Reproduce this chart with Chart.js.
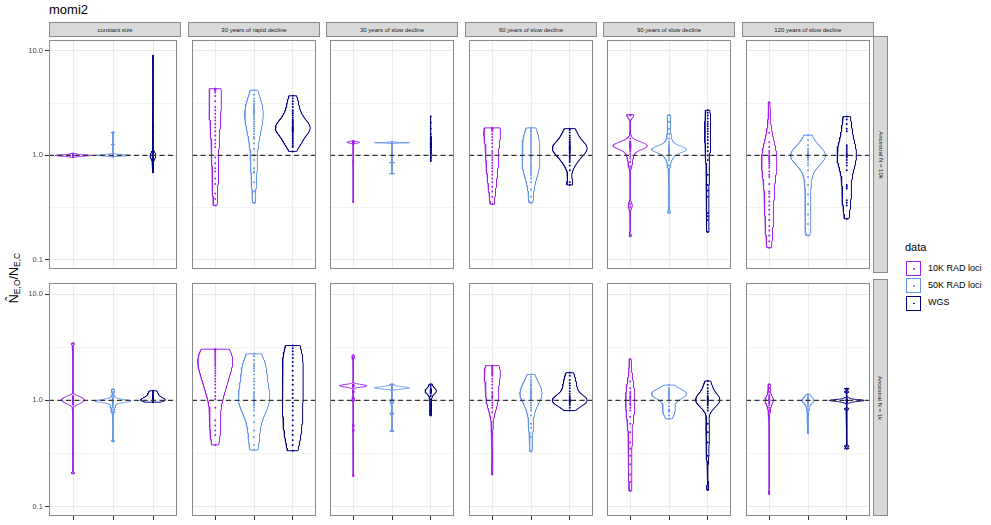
<!DOCTYPE html>
<html><head><meta charset="utf-8">
<script src="https://cdn.jsdelivr.net/npm/chart.js@4.4.1/dist/chart.umd.min.js"></script>
<style>
body{margin:0;background:#fff;width:991px;height:525px;position:relative;overflow:hidden;font-family:"Liberation Sans",Arial,Helvetica,sans-serif}
canvas{position:absolute}
.strip{position:absolute;background:#d9d9d9;border:1px solid #8a8a8a;box-sizing:border-box;font-size:6px;color:#1a1a1a;display:flex;align-items:center;justify-content:center;white-space:nowrap}
.vlab{transform:rotate(90deg);white-space:nowrap}
#title{position:absolute;left:49px;top:2px;font-size:13px;color:#000}
#ytitle{position:absolute;left:14px;top:278px;transform:translate(-50%,-50%) rotate(-90deg);font-size:12.5px;white-space:nowrap;color:#000}
#ytitle sub{font-size:8.5px;vertical-align:-2px}
.lg{position:absolute;font-size:9px;color:#000;white-space:nowrap}
.key{position:absolute;width:15px;height:15px;box-sizing:border-box;background:#fff}
.key i{position:absolute;left:6px;top:6px;width:1.6px;height:1.6px;border-radius:50%}
</style></head><body>
<div id="title">momi2</div>
<div id="ytitle">N&#770;<sub>E,O</sub>/N<sub>E,C</sub></div>
<script>
// ---------------- data ----------------
const scenarios = ["constant size","30 years of rapid decline","30 years of slow decline","60 years of slow decline","90 years of slow decline","120 years of slow decline"];
const ancestral = ["Ancestral N = 10k","Ancestral N = 1k"];
const dataSets = ["10K RAD loci","50K RAD loci","WGS"];
const yTickLabels = [0.1, 1, 10];
const refLine = 1;

// Ancestral N = 10k
const rad10k_n10k = [
 [0.96,0.97,0.97,0.98,0.98,0.98,0.98,0.99,0.99,0.99,0.99,0.99,0.99,1.00,1.00,1.00,1.00,1.00,1.00,1.00,1.00,1.01,1.01,1.01,1.01,1.02,1.02,1.03,1.04],
 [4.35,4.35,4.33,4.3,4.3,4.25,4.2,4.15,4.0,3.7,3.3,2.9,2.7,2.5,2.3,2.15,2.0,1.85,1.7,1.55,1.4,1.3,1.2,0.95,0.84,0.75,0.7,0.6,0.53,0.43,0.38,0.33],
 [1.29,1.30,1.31,1.31,1.32,1.32,1.32,1.33,1.33,1.33,1.33,1.34,1.34,1.34,1.35,1.35,1.36,1.37,0.87,0.357],
 [1.83,1.83,1.82,1.82,1.81,1.8,1.78,1.75,1.7,1.6,1.5,1.4,1.3,1.2,1.1,1.05,1.0,0.95,0.9,0.85,0.8,0.75,0.7,0.65,0.6,0.55,0.5,0.45,0.4,0.34],
 [2.45,2.43,2.4,1.45,1.36,1.33,1.31,1.29,1.28,1.27,1.26,1.25,1.24,1.24,1.23,1.22,1.21,1.2,1.19,1.18,1.16,1.14,1.12,1.08,1.03,0.98,0.93,0.86,0.78,0.34,0.32,0.167],
 [3.23,1.64,1.33,1.2,1.1,1.05,1.0,0.98,0.95,0.92,0.9,0.87,0.84,0.8,0.76,0.7,0.65,0.62,0.53,0.45,0.43,0.4,0.36,0.33,0.3,0.27,0.24,0.21,0.19,0.17,0.15,0.13]
];
const rad50k_n10k = [
 [0.97,0.98,0.98,0.99,0.99,0.99,0.99,1.0,1.0,1.0,1.0,1.0,1.0,1.01,1.01,1.01,1.01,1.02,1.02,1.03,1.27,1.66],
 [4.2,3.8,3.5,3.3,3.1,3.0,2.9,2.8,2.7,2.65,2.6,2.55,2.5,2.4,2.3,2.2,2.1,2.0,1.9,1.8,1.7,1.6,1.5,1.45,1.3,1.15,1.0,0.9,0.75,0.7,0.68,0.55,0.45,0.35],
 [1.30,1.31,1.31,1.32,1.32,1.32,1.32,1.32,1.32,1.33,1.33,1.34,0.85,0.667],
 [1.83,1.75,1.68,1.6,1.53,1.46,1.4,1.34,1.28,1.22,1.17,1.12,1.07,1.02,0.98,0.94,0.9,0.86,0.82,0.79,0.76,0.73,0.7,0.67,0.64,0.6,0.55,0.47,0.4,0.35],
 [2.43,2.1,1.8,1.6,1.45,1.35,1.28,1.24,1.21,1.19,1.17,1.16,1.15,1.15,1.14,1.13,1.12,1.11,1.1,1.08,1.06,1.03,1.0,0.95,0.9,0.8,0.28],
 [1.56,1.4,1.25,1.15,1.1,1.05,1.03,1.02,1.0,1.0,0.99,0.98,0.96,0.94,0.9,0.85,0.8,0.72,0.62,0.52,0.42,0.34,0.27,0.22,0.17]
];
const wgs_n10k = [
 [9.0,1.86,1.7,1.6,1.5,1.4,1.3,1.2,1.15,1.1,1.08,1.05,1.03,1.02,1.01,1.0,1.0,1.0,1.0,1.0,1.0,0.99,0.99,0.98,0.98,0.97,0.96,0.95,0.94,0.92,0.9,0.88,0.85,0.8,0.75,0.686],
 [3.72,3.5,3.3,3.1,2.9,2.7,2.6,2.5,2.4,2.3,2.2,2.15,2.1,2.05,2.0,1.95,1.9,1.87,1.85,1.83,1.8,1.78,1.75,1.72,1.7,1.65,1.6,1.55,1.5,1.45,1.4,1.35,1.3,1.25,1.2,1.09],
 [2.35,2.05,1.8,1.6,1.46,1.39,1.33,1.3,1.28,1.26,1.23,1.2,1.18,1.12,1.05,0.95,0.88],
 [1.8,1.75,1.65,1.55,1.48,1.42,1.36,1.32,1.28,1.25,1.22,1.2,1.18,1.16,1.14,1.12,1.1,1.07,1.04,1.0,0.97,0.94,0.9,0.86,0.8,0.72,0.55,0.52],
 [2.7,2.55,2.4,2.25,2.1,2.0,1.9,1.8,1.7,1.6,1.5,1.4,1.3,1.2,1.1,1.0,0.9,0.65,0.52,0.46,0.4,0.28,0.26,0.24,0.184],
 [2.35,2.2,2.0,1.8,1.7,1.25,1.2,1.15,1.1,1.05,1.02,1.0,0.98,0.95,0.9,0.85,0.8,0.72,0.52,0.5,0.48,0.37,0.35,0.33,0.246]
];
// Ancestral N = 1k
const rad10k_n1k = [
 [3.44,1.1,1.08,1.06,1.05,1.03,1.02,1.01,1.0,0.99,0.98,0.96,0.95,0.93,0.91,0.204],
 [3.03,3.02,3.0,2.95,2.9,2.8,2.7,2.6,2.5,2.4,2.3,2.2,2.1,2.0,1.9,1.8,1.7,1.6,1.5,1.4,1.3,1.2,1.1,1.03,0.85,0.65,0.58,0.52,0.47,0.38],
 [2.65,2.5,1.41,1.4,1.39,1.39,1.38,1.38,1.37,1.37,1.37,1.37,1.36,1.36,1.35,1.35,1.34,1.33,1.2,1.05,1.0,0.58,0.52,0.194],
 [2.12,2.1,2.05,2.0,1.95,1.9,1.85,1.82,1.8,1.75,1.7,1.6,1.5,1.4,1.3,1.2,1.15,1.1,1.08,1.05,1.0,0.95,0.9,0.85,0.77,0.47,0.2],
 [2.45,1.5,1.3,1.2,1.15,1.1,1.07,1.05,1.02,1.0,0.97,0.93,0.9,0.85,0.8,0.7,0.6,0.5,0.4,0.35,0.3,0.25,0.2,0.17,0.14],
 [1.42,1.3,1.2,1.12,1.08,1.05,1.03,1.02,1.0,0.99,0.98,0.96,0.93,0.9,0.85,0.8,0.7,0.131]
];
const rad50k_n1k = [
 [1.27,1.2,1.1,1.05,1.03,1.02,1.01,1.0,1.0,0.99,0.99,0.99,0.98,0.98,0.98,0.97,0.97,0.97,0.96,0.95,0.94,0.92,0.89,0.86,0.82,0.78,0.41],
 [2.74,2.6,2.4,2.2,2.1,2.0,1.9,1.75,1.6,1.5,1.4,1.3,1.2,1.15,1.1,1.05,1.0,0.97,0.93,0.9,0.85,0.8,0.72,0.62,0.52,0.45,0.38,0.34],
 [1.42,1.36,1.35,1.34,1.33,1.32,1.32,1.31,1.31,1.31,1.30,1.30,1.29,1.28,1.27,1.0,0.95,0.75,0.51],
 [1.75,1.65,1.55,1.48,1.42,1.36,1.3,1.26,1.22,1.19,1.17,1.15,1.12,1.1,1.07,1.04,1.0,0.95,0.9,0.85,0.8,0.72,0.6,0.55,0.45,0.33],
 [1.39,1.3,1.25,1.22,1.2,1.18,1.17,1.16,1.15,1.14,1.13,1.12,1.1,1.07,1.04,1.0,0.95,0.88,0.82,0.8,0.78,0.72,0.67],
 [1.14,1.1,1.06,1.04,1.02,1.01,1.0,1.0,0.99,0.98,0.97,0.95,0.92,0.88,0.82,0.75,0.65,0.49]
];
const wgs_n1k = [
 [1.23,1.2,1.17,1.14,1.11,1.09,1.07,1.05,1.04,1.03,1.02,1.01,1.0,1.0,0.99,0.98,0.97,0.96],
 [3.28,3.1,2.9,2.7,2.5,2.3,2.1,1.9,1.7,1.55,1.4,1.25,1.15,1.05,0.95,0.88,0.8,0.72,0.65,0.58,0.52,0.47,0.42,0.38,0.335],
 [1.42,1.36,1.3,1.27,1.25,1.24,1.23,1.22,1.21,1.2,1.18,1.15,1.1,1.02,0.9,0.8,0.72],
 [1.82,1.7,1.55,1.45,1.38,1.3,1.22,1.15,1.1,1.06,1.03,1.01,1.0,1.0,0.99,0.98,0.96,0.93,0.9,0.85,0.8],
 [1.52,1.4,1.3,1.22,1.16,1.1,1.07,1.05,1.03,1.01,1.0,0.98,0.96,0.93,0.9,0.85,0.8,0.6,0.5,0.4,0.3,0.143],
 [1.29,1.2,1.05,1.02,1.01,1.0,1.0,1.0,1.0,0.99,0.99,0.98,0.97,0.95,0.83,0.37,0.35]
];

// ---------------- layout & style ----------------
const COLORS = ["#A020F0","#6495ED","#000080"];
const PANEL_X = [49,188,326,465,603,742];
const PANEL_Y = [36,279];
const PANEL_W = 132, PANEL_H = 237;
const Y_MIN = Math.pow(10,-1.09), Y_MAX = Math.pow(10,1.105);
const rowsData = [[rad10k_n10k,rad50k_n10k,wgs_n10k],[rad10k_n1k,rad50k_n1k,wgs_n1k]];

// strips
scenarios.forEach((s,c)=>{
  const d=document.createElement('div');d.className='strip';
  Object.assign(d.style,{left:PANEL_X[c]+'px',top:'22px',width:PANEL_W+'px',height:'15px'});
  d.textContent=s;document.body.appendChild(d);
});
ancestral.forEach((s,r)=>{
  const d=document.createElement('div');d.className='strip';
  Object.assign(d.style,{left:(PANEL_X[5]+PANEL_W-1)+'px',top:PANEL_Y[r]+'px',width:'15px',height:PANEL_H+'px'});
  const sp=document.createElement('span');sp.className='vlab';sp.textContent=s;d.appendChild(sp);
  document.body.appendChild(d);
});
// legend
(function(){
  const t=document.createElement('div');t.className='lg';t.style.left='905px';t.style.top='241px';t.style.fontSize='11px';t.textContent='data';document.body.appendChild(t);
  dataSets.forEach((s,i)=>{
    const k=document.createElement('div');k.className='key';
    Object.assign(k.style,{left:'906px',top:(261+i*17.3)+'px',border:'1px solid '+COLORS[i]});
    const dot=document.createElement('i');dot.style.background=COLORS[i];k.appendChild(dot);
    document.body.appendChild(k);
    const l=document.createElement('div');l.className='lg';l.style.left='928px';l.style.top=(262.5+i*17.3)+'px';l.textContent=s;document.body.appendChild(l);
  });
})();

// Gaussian KDE (R nrd0 bandwidth) on log10 scale, trimmed
function quantile(s,p){const h=(s.length-1)*p,lo=Math.floor(h),hi=Math.ceil(h);return s[lo]+(s[hi]-s[lo])*(h-lo);}
function kde(vals){
  const x=vals.map(v=>Math.log10(v)).sort((a,b)=>a-b);
  const n=x.length, mean=x.reduce((a,b)=>a+b,0)/n;
  const sd=Math.sqrt(x.reduce((a,b)=>a+(b-mean)*(b-mean),0)/(n-1));
  let lo=Math.min(sd,(quantile(x,0.75)-quantile(x,0.25))/1.34);
  if(!lo) lo=sd||Math.abs(x[0])||1;
  const bw=0.9*lo*Math.pow(n,-0.2);
  const mn=x[0],mx=x[n-1],N=512,out=[];
  for(let i=0;i<N;i++){
    const t=mn+(mx-mn)*i/(N-1);let d=0;
    for(const xi of x){const z=(t-xi)/bw;d+=Math.exp(-0.5*z*z);}
    out.push({t,d:d/(n*bw*Math.sqrt(2*Math.PI))});
  }
  return out;
}

const panelBorder={id:'panelBorder',afterDraw(ch){const a=ch.chartArea,c=ch.ctx;c.save();c.strokeStyle='#8a8a8a';c.lineWidth=1;c.strokeRect(a.left+0.5,a.top+0.5,a.right-a.left-1,a.bottom-a.top-1);c.restore();}};

const isMajor=v=>yTickLabels.some(t=>Math.abs(Math.log10(v)-Math.log10(t))<1e-6);

function makePanel(r,c){
  const isLeft=c===0,isBottom=r===1;
  const axisW=isLeft?PANEL_X[0]:0, axisH=isBottom?9:0;
  const cv=document.createElement('canvas');
  const w=PANEL_W+axisW,h=PANEL_H+axisH;
  cv.width=w;cv.height=h;
  cv.style.left=(isLeft?0:PANEL_X[c])+'px';cv.style.top=PANEL_Y[r]+'px';
  cv.style.width=w+'px';cv.style.height=h+'px';
  document.body.appendChild(cv);

  const groups=rowsData[r].map(arr=>arr[c]);
  const dens=groups.map(kde);
  const maxD=Math.max(...dens.map(g=>Math.max(...g.map(p=>p.d))));
  const datasets=[];
  datasets.push({data:[{x:0.4,y:refLine},{x:3.6,y:refLine}],showLine:true,borderColor:'#333',borderWidth:1.2,borderDash:[5,3.5],pointRadius:0});
  groups.forEach((g,i)=>{
    datasets.push({data:g.map(v=>({x:i+1,y:v})),showLine:false,pointRadius:1,pointBorderWidth:0,backgroundColor:COLORS[i],borderColor:COLORS[i]});
  });
  dens.forEach((g,i)=>{
    const cx=i+1,right=[],left=[];
    g.forEach(p=>{const hw=p.d/maxD*0.45;right.push({x:cx+hw,y:Math.pow(10,p.t)});});
    for(let k=g.length-1;k>=0;k--){const p=g[k];const hw=p.d/maxD*0.45;left.push({x:cx-hw,y:Math.pow(10,p.t)});}
    const poly=right.concat(left);poly.push(right[0]);
    datasets.push({data:poly,showLine:true,borderColor:COLORS[i],borderWidth:1,pointRadius:0,fill:false,tension:0});
  });

  new Chart(cv,{
    type:'scatter',
    data:{datasets},
    plugins:[panelBorder],
    options:{
      responsive:false,animation:false,devicePixelRatio:1,
      layout:{padding:0},
      plugins:{legend:{display:false},tooltip:{enabled:false}},
      scales:{
        x:{type:'linear',min:0.4,max:3.6,bounds:'data',
          afterBuildTicks:s=>{s.ticks=[1,2,3].map(v=>({value:v}));},
          afterFit:s=>{s.height=axisH;s.paddingLeft=0;s.paddingRight=0;s.paddingTop=0;s.paddingBottom=0;},
          grid:{color:'#ebebeb',lineWidth:1,drawTicks:isBottom,tickLength:4,tickColor:'#333'},
          border:{display:false},ticks:{display:false}},
        y:{type:'logarithmic',min:Y_MIN,max:Y_MAX,bounds:'data',
          afterBuildTicks:s=>{s.ticks=[0.1,Math.sqrt(0.1*1),1,Math.sqrt(10),10].map(v=>({value:v}));},
          afterFit:s=>{s.width=axisW;s.paddingLeft=0;s.paddingRight=0;s.paddingTop=0;s.paddingBottom=0;},
          grid:{color:ctx=>ctx.tick&&isMajor(ctx.tick.value)?'#e8e8e8':'#f4f4f4',lineWidth:1,drawTicks:isLeft,tickLength:4,
            tickColor:ctx=>ctx.tick&&isMajor(ctx.tick.value)?'#333':'rgba(0,0,0,0)'},
          border:{display:false},
          ticks:{display:isLeft,padding:2,color:'#4d4d4d',font:{family:'"Liberation Sans", Arial, sans-serif',size:7.5},
            callback:v=>isMajor(v)?v.toFixed(1):''}}
      }
    }
  });
}
for(let r=0;r<2;r++)for(let c=0;c<6;c++)makePanel(r,c);
</script>
</body></html>
